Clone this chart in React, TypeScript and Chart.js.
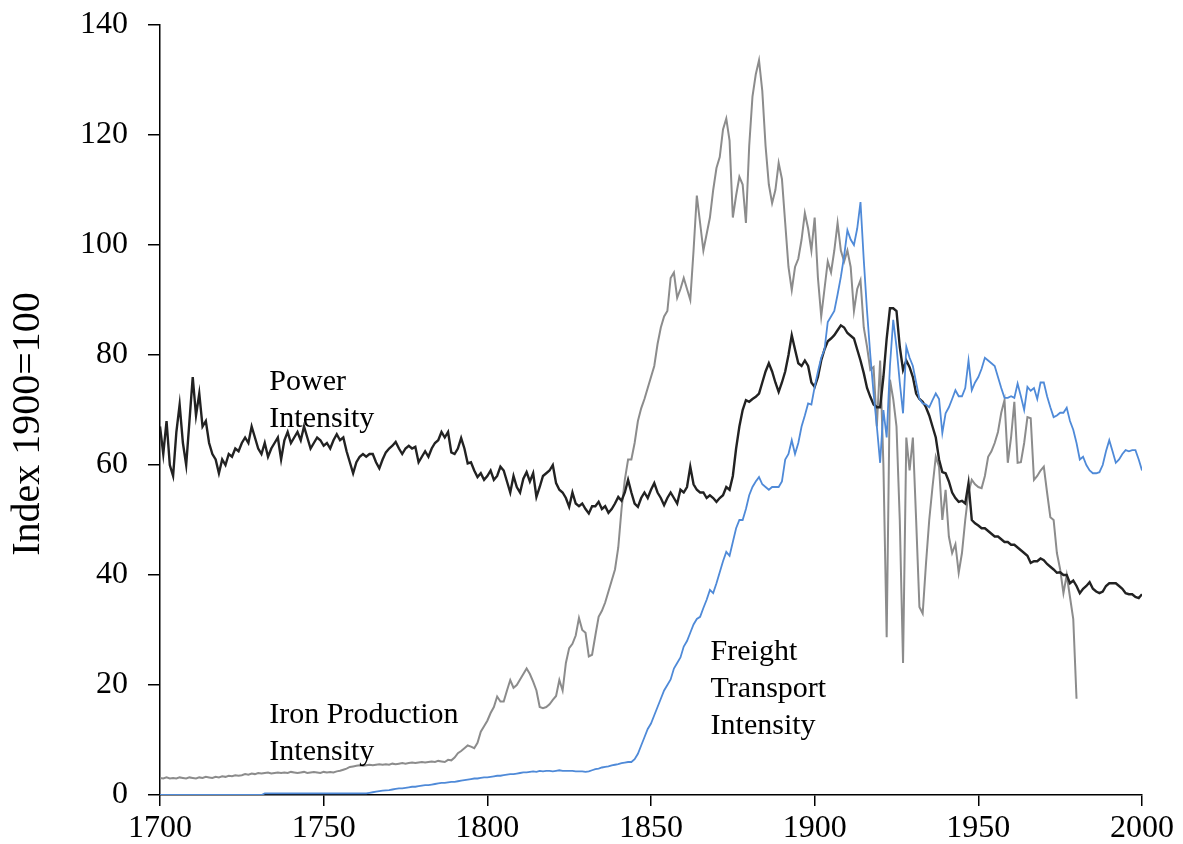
import React, { useEffect, useRef } from "react";
import { Chart, registerables } from "chart.js";

Chart.register(...registerables);

// ---------- data ----------
const START_YEAR = 1700;
const X_TICKS = [1700, 1750, 1800, 1850, 1900, 1950, 2000];
const Y_TICKS = [0, 20, 40, 60, 80, 100, 120, 140];
const Y_TITLE = "Index 1900=100";

// Power Intensity, annual 1700-2000
const powerIntensity = [
  67, 62, 68, 60, 58, 66, 71, 64, 60, 68,
  76, 69, 73, 67, 68, 64, 62, 61, 58.5, 61,
  60, 62, 61.5, 63, 62.5, 64, 65, 64, 67, 65,
  63, 62, 64, 61.5, 63, 64, 65, 61, 64.5, 66,
  64, 65, 66, 64.5, 67, 65, 63, 64, 65, 64.5,
  63.5, 64, 63, 64.5, 65.6, 64.5, 65, 62.5, 60.5, 58.5,
  60.5, 61.5, 62, 61.5, 62, 62, 60.5, 59.4, 61, 62.3,
  63, 63.5, 64.2, 63, 62, 63, 63.5, 63, 63.3, 60.5,
  61.5, 62.5, 61.5, 63, 64, 64.5, 66, 65, 66, 62.3,
  62, 63, 64.9, 63, 60.3, 60.5, 59, 57.8, 58.5, 57.3,
  58, 59, 57.3, 58, 59.7, 59, 57, 55, 58, 56,
  55, 57.5, 58.7, 57, 58.5, 54.2, 56, 58, 58.5, 59,
  60, 56.7, 55.5, 55, 54, 52.4, 55, 53, 52.5, 53,
  52, 51.2, 52.5, 52.5, 53.3, 52, 52.5, 51.3, 52, 53,
  54.2, 53.5, 55, 57.3, 55, 53, 52.4, 54, 55, 54,
  55.5, 56.7, 55, 54, 52.7, 54, 55, 54, 53, 55.5,
  55, 56, 59.7, 56.5, 55.5, 55, 55, 54, 54.5, 54,
  53.3, 54, 54.5, 56, 55.5, 58, 63, 67, 70, 71.8,
  71.5, 72, 72.4, 73, 75, 77, 78.5, 77, 75, 73.3,
  75, 77, 80, 83.6, 81, 78.5, 78, 79, 78, 75,
  74.2, 76, 79, 81, 82.5, 83, 83.6, 84.5, 85.4, 85,
  84, 83.5, 83, 81, 79, 76.7, 74, 72.4, 71, 70.5,
  70.5, 76, 83, 88.5, 88.5, 88, 81.5, 77.3, 79, 77.8,
  76, 73, 72, 71.5, 70.5, 69, 67, 65, 61, 58.7,
  58.5, 57, 55, 54, 53.3, 53.5, 53, 56.7, 50, 49.4,
  49, 48.5, 48.5, 48, 47.5, 47, 47, 46.5, 46, 46,
  45.5, 45.5, 45, 44.5, 44, 43.5, 42.2, 42.5, 42.5, 43,
  42.7, 42, 41.5, 41, 40.4, 40.5, 40, 40, 38.5, 39,
  38, 36.7, 37.5, 38, 38.7, 37.5, 37, 36.7, 37, 38,
  38.5, 38.5, 38.5, 38, 37.5, 36.7, 36.5, 36.5, 36, 35.8,
  36.5,
];

// Iron Production Intensity, annual 1700-1980
const ironIntensity = [
  3.1, 3.0, 3.2, 3.0, 3.1, 3.0, 3.2, 3.1, 3.0, 3.2,
  3.1, 3.0, 3.2, 3.1, 3.3, 3.2, 3.1, 3.3, 3.2, 3.4,
  3.3, 3.5, 3.4, 3.6, 3.5, 3.6, 3.8, 3.7, 3.9, 3.8,
  4.0, 3.9, 4.0, 4.1, 3.9, 4.0, 4.1, 4.0, 4.1, 4.0,
  4.2, 4.1, 4.0, 4.1, 4.2, 4.0, 4.1, 4.2, 4.1, 4.0,
  4.2, 4.1, 4.2, 4.1, 4.3, 4.4, 4.6, 4.8, 5.1, 5.2,
  5.3, 5.4, 5.3, 5.4, 5.5, 5.4, 5.5, 5.6, 5.5, 5.6,
  5.5, 5.7, 5.6, 5.7, 5.8, 5.7, 5.8, 5.9, 5.8, 5.9,
  6.0, 5.9, 6.0, 6.1, 6.0, 6.2, 6.1, 6.0, 6.4, 6.3,
  6.8, 7.6, 8.0, 8.5, 9.0, 8.8, 8.5, 9.5, 11.5, 12.5,
  13.5, 14.9, 16, 17.9, 17, 17, 19, 20.9, 19.5, 20,
  21, 22, 23, 22, 20.6, 19, 16, 15.8, 16, 16.5,
  17.3, 18, 20.9, 19, 24, 26.7, 27.5, 29, 32.2, 30,
  29.5, 25.2, 25.5, 29, 32.4, 33.5, 35, 37, 39, 41,
  45, 52, 57.3, 61, 61, 64, 68, 70.3, 72, 74,
  76, 78, 82, 85, 87, 88, 94, 95, 90.4, 92,
  94, 92, 90, 99, 109, 104, 99, 102, 105, 110,
  114, 116, 121, 123, 119, 105, 109, 112.4, 111, 104,
  118, 127, 131, 133.6, 128, 118, 111, 107.6, 110, 114.9,
  112, 104, 96, 91.8, 96, 97.5, 101, 105.8, 103, 99,
  105, 94, 87, 92, 97, 95, 99, 104, 99, 97,
  99, 96, 88, 92, 93.6, 85, 81.5, 77.3, 77.8, 67,
  79, 60, 28.7, 75.5, 72, 67, 50, 24, 65, 59,
  65, 50, 34.2, 33, 42, 50, 56, 61.5, 59.7, 50,
  55.5, 47, 44, 45.6, 40.4, 44, 50, 55, 57.3, 56.5,
  56, 55.8, 58, 61.5, 62.5, 64, 66, 69.5, 71.8, 60.4,
  65, 71.5, 60.4, 60.5, 64, 68.7, 68.5, 57.3, 58, 59,
  59.7, 55, 50.5, 50, 44, 41, 36.7, 40, 36, 32,
  17.5,
];

// Freight Transport Intensity, annual 1700-2000
const freightIntensity = [
  0, 0, 0, 0, 0, 0, 0, 0, 0, 0,
  0, 0, 0, 0, 0, 0, 0, 0, 0, 0,
  0, 0, 0, 0, 0, 0, 0, 0, 0, 0,
  0, 0, 0.3, 0.3, 0.3, 0.3, 0.3, 0.3, 0.3, 0.3,
  0.3, 0.3, 0.3, 0.3, 0.3, 0.3, 0.3, 0.3, 0.3, 0.3,
  0.3, 0.3, 0.3, 0.3, 0.3, 0.3, 0.3, 0.3, 0.3, 0.3,
  0.3, 0.3, 0.3, 0.3, 0.4, 0.5, 0.6, 0.7, 0.8, 0.85,
  0.9, 1.0, 1.1, 1.2, 1.2, 1.3, 1.4, 1.5, 1.5, 1.6,
  1.7, 1.8, 1.8, 1.9, 2.0, 2.1, 2.2, 2.2, 2.3, 2.4,
  2.4, 2.5, 2.6, 2.7, 2.8, 2.9, 3.0, 3.0, 3.1, 3.2,
  3.2, 3.3, 3.4, 3.5, 3.5, 3.6, 3.7, 3.8, 3.8, 3.9,
  4.0, 4.1, 4.1, 4.2, 4.3, 4.2, 4.4, 4.3, 4.4, 4.4,
  4.3, 4.4, 4.5, 4.4, 4.4, 4.4, 4.4, 4.3, 4.3, 4.3,
  4.2, 4.3, 4.5, 4.7, 4.8, 5.0, 5.1, 5.2, 5.4, 5.5,
  5.6, 5.8, 5.9, 6.0, 6.0, 6.5, 7.5, 9, 10.5, 12,
  13, 14.5, 16, 17.5, 19, 20, 21, 23, 24, 25,
  27, 28, 29.5, 31, 32, 32.4, 34, 35.5, 37.3, 36.7,
  38.5, 40.5, 42.5, 44.2, 43.5, 46, 48.5, 50, 50, 52,
  54.5, 56, 57, 57.8, 56.5, 56, 55.5, 56, 56, 56,
  57, 61, 62, 64.5, 62, 64, 67, 69, 71.2, 71,
  74.2, 77, 79.5, 81, 86, 87, 88, 91, 94.2, 98,
  102.7, 101, 100, 103, 107.8, 97.3, 88, 80, 73, 67,
  60.4, 70, 65, 78, 86.4, 81.5, 75, 69.4, 81.5, 79.5,
  78, 75, 72, 71.2, 71, 70.5, 71.8, 73, 72, 65.8,
  69.4, 70.5, 72, 73.6, 72.5, 72.5, 74, 79, 73.6, 75,
  76, 77.5, 79.5, 79, 78.5, 78, 76, 74, 72.2, 72.2,
  72.5, 72.2, 74.8, 72.5, 70, 74.2, 73.5, 74, 72, 75,
  75, 72.5, 70.5, 68.7, 69, 69.5, 69.5, 70.4, 68, 66.4,
  64, 61, 61.5, 60, 59, 58.5, 58.5, 58.7, 60, 62.5,
  64.5, 62.5, 60.4, 61, 62, 62.7, 62.5, 62.7, 62.7, 61,
  59,
];

// text labels placed next to the lines (year, value of first baseline)
const LABEL_POWER = ["Power", "Intensity"];
const LABEL_IRON = ["Iron Production", "Intensity"];
const LABEL_FREIGHT = ["Freight", "Transport", "Intensity"];
const LABEL_ANCHORS = [
  { lines: LABEL_POWER, year: 1733.4, value: 73.6 },
  { lines: LABEL_IRON, year: 1733.4, value: 13.1 },
  { lines: LABEL_FREIGHT, year: 1868.2, value: 24.5 },
];

// ---------- styles ----------
const SERIF = '"Liberation Serif", "Times New Roman", Times, serif';
const COLOR_POWER = "#222222";
const COLOR_IRON = "#8c8c8c";
const COLOR_FREIGHT = "#4f8ad8";

const toPoints = (arr: number[]) =>
  arr.map((v, i) => ({ x: START_YEAR + i, y: v }));

const textPlugin = {
  id: "textLabels",
  afterDraw(chart: any) {
    const { ctx, scales, chartArea } = chart;
    const xs = scales.x;
    const ys = scales.y;
    ctx.save();
    ctx.fillStyle = "#000";
    ctx.font = `30px ${SERIF}`;
    ctx.textAlign = "left";
    ctx.textBaseline = "alphabetic";
    for (const a of LABEL_ANCHORS) {
      const px = xs.getPixelForValue(a.year);
      const py = ys.getPixelForValue(a.value);
      a.lines.forEach((line: string, i: number) => {
        ctx.fillText(line, px, py + i * 37);
      });
    }
    ctx.restore();

    ctx.save();
    ctx.fillStyle = "#000";
    ctx.font = `40px ${SERIF}`;
    ctx.textAlign = "center";
    ctx.textBaseline = "middle";
    ctx.translate(28, (chartArea.top + chartArea.bottom) / 2 + 14);
    ctx.rotate(-Math.PI / 2);
    ctx.fillText(Y_TITLE, 0, 0);
    ctx.restore();
  },
};

export default function App() {
  const canvasRef = useRef<HTMLCanvasElement | null>(null);

  useEffect(() => {
    const canvas = canvasRef.current;
    if (!canvas) return;
    const chart = new Chart(canvas, {
      type: "line",
      data: {
        datasets: [
          {
            label: "Iron Production Intensity",
            data: toPoints(ironIntensity),
            borderColor: COLOR_IRON,
            borderWidth: 2,
            pointRadius: 0,
            tension: 0,
            order: 3,
          },
          {
            label: "Power Intensity",
            data: toPoints(powerIntensity),
            borderColor: COLOR_POWER,
            borderWidth: 2.4,
            pointRadius: 0,
            tension: 0,
            order: 2,
          },
          {
            label: "Freight Transport Intensity",
            data: toPoints(freightIntensity),
            borderColor: COLOR_FREIGHT,
            borderWidth: 1.8,
            pointRadius: 0,
            tension: 0,
            order: 1,
          },
        ],
      },
      options: {
        responsive: false,
        animation: false,
        devicePixelRatio: 1,
        layout: { padding: { top: 25, right: 41, left: 0, bottom: 0 } },
        plugins: {
          legend: { display: false },
          tooltip: { enabled: false },
        },
        scales: {
          x: {
            type: "linear",
            min: 1700,
            max: 2000,
            afterFit: (scale: any) => {
              scale.height = 49;
              scale.paddingLeft = 0;
              scale.paddingRight = 0;
            },
            afterBuildTicks: (scale: any) => {
              scale.ticks = X_TICKS.map((v) => ({ value: v }));
            },
            ticks: {
              color: "#000",
              font: { family: SERIF, size: 32 },
              padding: 3,
              maxRotation: 0,
              autoSkip: false,
              callback: (v: any) => String(v),
            },
            grid: {
              drawOnChartArea: false,
              drawTicks: true,
              tickLength: 11,
              color: "#000",
              lineWidth: 1.5,
            },
            border: { color: "#000", width: 1.5 },
          },
          y: {
            type: "linear",
            min: 0,
            max: 140,
            afterFit: (scale: any) => {
              scale.width = 160;
              scale.paddingTop = 0;
              scale.paddingBottom = 0;
            },
            afterBuildTicks: (scale: any) => {
              scale.ticks = Y_TICKS.map((v) => ({ value: v }));
            },
            ticks: {
              color: "#000",
              font: { family: SERIF, size: 32 },
              padding: 20,
              autoSkip: false,
              callback: (v: any) => String(v),
            },
            grid: {
              drawOnChartArea: false,
              drawTicks: true,
              tickLength: 12,
              color: "#000",
              lineWidth: 1.5,
            },
            border: { color: "#000", width: 1.5 },
          },
        },
      },
      plugins: [textPlugin],
    });
    return () => chart.destroy();
  }, []);

  return (
    <div
      style={{
        position: "fixed",
        left: 0,
        top: 0,
        width: 1183,
        height: 844,
        background: "#fff",
      }}
    >
      <canvas ref={canvasRef} width={1183} height={844} />
    </div>
  );
}
